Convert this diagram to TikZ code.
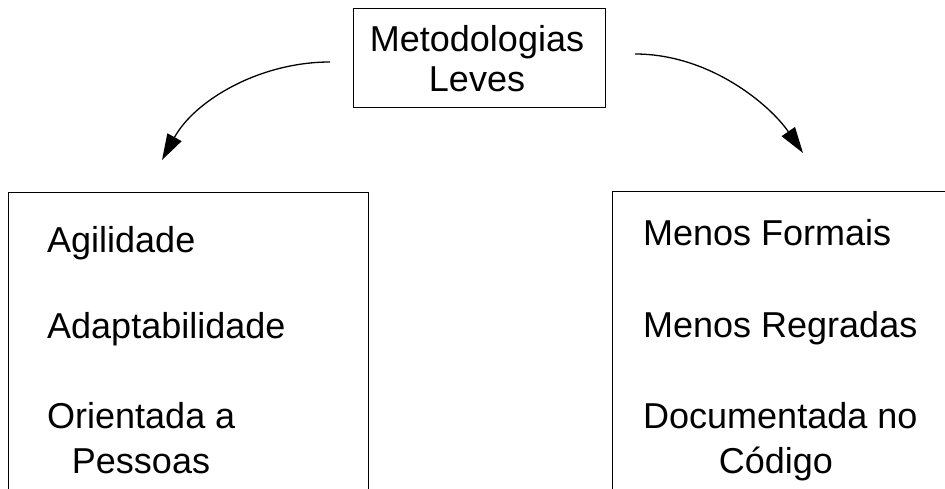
\documentclass[tikz,border=0pt]{standalone}
\usepackage{fontspec}
\setmainfont{Liberation Sans}
\usetikzlibrary{arrows.meta}
\begin{document}
\begin{tikzpicture}[x=1pt,y=-1pt,
  frame/.style={draw, line width=1.2pt, inner sep=0pt, anchor=north west},
  word/.style={font=\fontsize{36}{40}\selectfont, inner sep=0pt},
  link/.style={-{Triangle[length=26pt,width=16pt]}, line width=1.3pt}]
\useasboundingbox (0,0) rectangle (945,489);
\clip (0,0) rectangle (945,489);

% boxes (the two lower ones run past the page edge)
\node[frame, minimum width=252pt, minimum height=99pt] (top) at (353,8) {};
\node[frame, minimum width=360pt, minimum height=400pt] (left) at (8,192) {};
\node[frame, minimum width=400pt, minimum height=400pt] (right) at (612,191) {};

% title
\node[word, anchor=base] (t1) at (477,52) {Metodologias};
\node[word, anchor=base] (t2) at (477,92) {Leves};

% left column
\node[word, anchor=base west] (l1) at (47,252) {Agilidade};
\node[word, anchor=base west] (l2) at (47,338) {Adaptabilidade};
\node[word, anchor=base west] (l3) at (47,428) {Orientada a};
\node[word, anchor=base] (l4) at (141,473) {Pessoas};

% right column
\node[word, anchor=base west] (r1) at (643,245) {Menos Formais};
\node[word, anchor=base west] (r2) at (643,337) {Menos Regradas};
\node[word, anchor=base west] (r3) at (643,428) {Documentada no};
\node[word, anchor=base] (r4) at (776,473) {Código};

% curved connectors
\coordinate (la) at (330,62);
\coordinate (lb) at (162,160);
\coordinate (ra) at (635,54);
\coordinate (rb) at (803,153);
\draw[link] (la) .. controls (260,62) and (195,100) .. (lb);
\draw[link] (ra) .. controls (710,54) and (770,105) .. (rb);
\end{tikzpicture}
\end{document}
